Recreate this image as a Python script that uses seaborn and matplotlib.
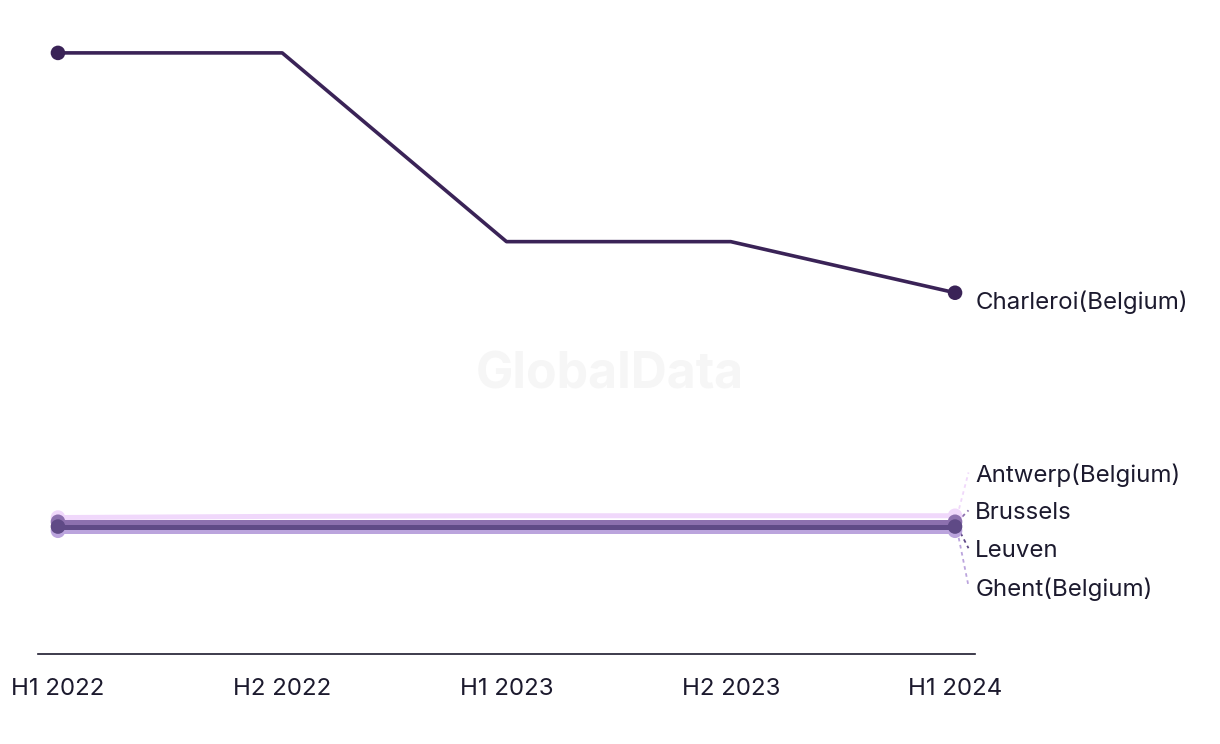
import pandas as pd
import numpy as np
import matplotlib.pyplot as plt
import seaborn as sns

periods = ['H1 2022', 'H2 2022', 'H1 2023', 'H2 2023', 'H1 2024']
cities = ['Charleroi(Belgium)', 'Antwerp(Belgium)', 'Brussels', 'Leuven', 'Ghent(Belgium)']
charleroi = [100.0, 100.0, 68.6, 68.6, 60.1]
antwerp = [22.7, 22.9, 23.0, 23.0, 23.0]
brussels = [22.0, 22.0, 22.0, 22.0, 22.0]
leuven = [21.2, 21.2, 21.2, 21.2, 21.2]
ghent = [20.5, 20.5, 20.5, 20.5, 20.5]
colors = ['#3a2357', '#f0d8fb', '#8c70ae', '#5f4a86', '#bba4dd']
label_y = [58.6, 29.7, 23.4, 17.1, 10.8]

series = [charleroi, antwerp, brussels, leuven, ghent]
rows = []
for city, vals in zip(cities, series):
    for i, v in enumerate(vals):
        rows.append({'city': city, 'x': i, 'value': v})
df = pd.DataFrame(rows)

sns.set_style('white')
plt.rcParams['font.family'] = ['Inter', 'DejaVu Sans']

fig = plt.figure(figsize=(12.2, 7.44), dpi=100)
ax = fig.add_axes([38 / 1220, 90 / 744, 937 / 1220, 654 / 744])

palette = dict(zip(cities, colors))
widths = [2.6, 3.6, 3.6, 3.6, 3.6]
# draw the small ones first, Charleroi on top
order = [1, 4, 2, 3, 0]
for k in order:
    city = cities[k]
    sub = df[df['city'] == city]
    sns.lineplot(data=sub, x='x', y='value', color=palette[city], lw=widths[k],
                 ax=ax, legend=False, zorder=3 if k == 0 else 2)
    ends = sub.iloc[[0, -1]]
    ax.scatter(ends['x'], ends['value'], s=110, color=palette[city],
               zorder=4 if k == 0 else 2, edgecolor='none')

# labels
last = len(periods) - 1
for k, city in enumerate(cities):
    ax.text(last + 0.09, label_y[k], city, va='center', ha='left',
            fontsize=17.3, color='#1c1a2e', clip_on=False)
    if k > 0:
        ax.plot([last + 0.01, last + 0.06], [series[k][-1], label_y[k] + 0.5],
                ls=(0, (2, 2)), lw=1.3, color=colors[k], clip_on=False, zorder=1)

ax.text(0.5, 0.496, 'GlobalData', transform=fig.transFigure, ha='center', va='center',
        fontsize=36, fontweight='bold', color='#f6f6f6', zorder=0)

ax.set_xlim(-0.089, 4.089)
ax.set_ylim(0, 108.8)
ax.set_xticks(range(len(periods)))
ax.set_xticklabels(periods, fontsize=17.3, color='#1c1a2e')
ax.set_yticks([])
ax.set_xlabel('')
ax.set_ylabel('')
ax.tick_params(axis='x', length=0, pad=17)
for s in ['top', 'right', 'left']:
    ax.spines[s].set_visible(False)
ax.spines['bottom'].set_color('#1c1a2e')
ax.spines['bottom'].set_linewidth(1.2)

fig.savefig('out.png', dpi=100)
